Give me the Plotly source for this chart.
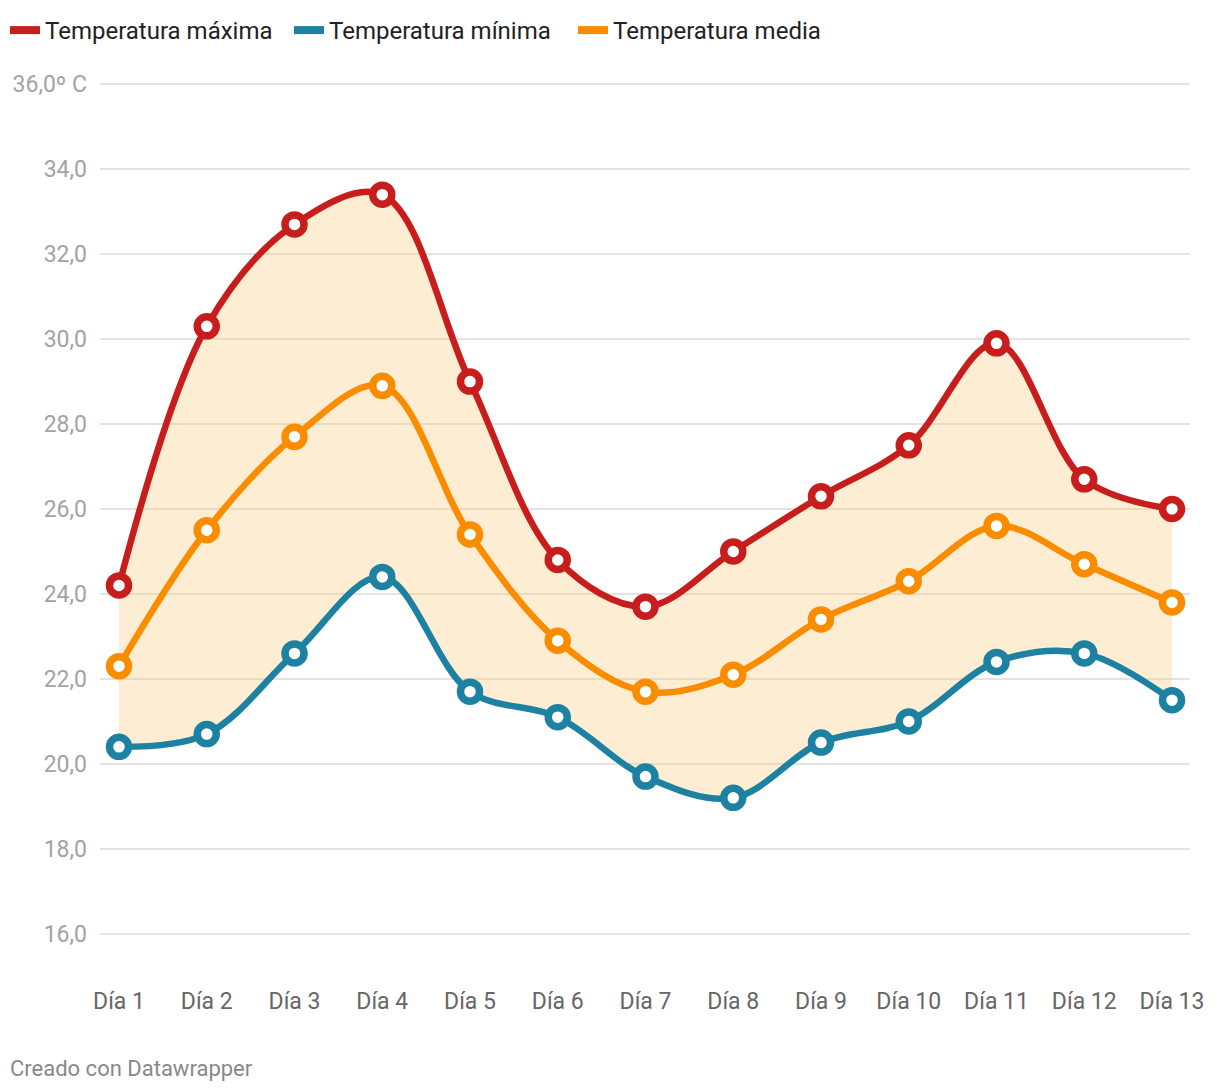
import plotly.graph_objects as go

days = ["Día 1", "Día 2", "Día 3", "Día 4", "Día 5", "Día 6", "Día 7",
        "Día 8", "Día 9", "Día 10", "Día 11", "Día 12", "Día 13"]
t_max = [24.2, 30.3, 32.7, 33.4, 29.0, 24.8, 23.7, 25.0, 26.3, 27.5, 29.9, 26.7, 26.0]
t_min = [20.4, 20.7, 22.6, 24.4, 21.7, 21.1, 19.7, 19.2, 20.5, 21.0, 22.4, 22.6, 21.5]
t_mean = [22.3, 25.5, 27.7, 28.9, 25.4, 22.9, 21.7, 22.1, 23.4, 24.3, 25.6, 24.7, 23.8]
y_ticks = [16, 18, 20, 22, 24, 26, 28, 30, 32, 34, 36]
y_ticktext = ["16,0", "18,0", "20,0", "22,0", "24,0", "26,0", "28,0", "30,0", "32,0", "34,0", "36,0º C"]

RED = "#c71e1d"
BLUE = "#1d81a2"
ORANGE = "#fa8c00"

x = list(range(len(days)))

fig = go.Figure()

# range fill between max and min
fig.add_trace(go.Scatter(x=x, y=t_min, mode="lines", line=dict(width=0, shape="spline", smoothing=1),
                         showlegend=False, hoverinfo="skip"))
fig.add_trace(go.Scatter(x=x, y=t_max, mode="lines", line=dict(width=0, shape="spline", smoothing=1),
                         fill="tonexty", fillcolor="rgba(250,200,120,0.33)",
                         showlegend=False, hoverinfo="skip"))

series = [("Temperatura máxima", t_max, RED),
          ("Temperatura mínima", t_min, BLUE),
          ("Temperatura media", t_mean, ORANGE)]

for name, vals, col in series:
    fig.add_trace(go.Scatter(
        x=x, y=vals, mode="lines+markers", name=name, showlegend=False,
        line=dict(color=col, width=6.5, shape="spline", smoothing=1),
        marker=dict(size=19, color="white", line=dict(color=col, width=7.5)),
        cliponaxis=False,
    ))

# legend-only traces
for name, vals, col in series:
    fig.add_trace(go.Scatter(
        x=[None], y=[None], mode="lines", name=name,
        line=dict(color=col, width=8),
    ))

L, R, T, B = 100, 30, 80, 154
W, H = 1220, 1092
PW, PH = W - L - R, H - T - B

fig.update_layout(
    width=W, height=H,
    paper_bgcolor="white", plot_bgcolor="white",
    font=dict(family="Roboto, sans-serif"),
    margin=dict(l=L, r=R, t=T, b=B),
    showlegend=True,
    legend=dict(orientation="h", x=5/W, xanchor="left", y=1 - 8/H, yanchor="top",
                xref="container", yref="container",
                font=dict(size=24, color="#222222"), itemwidth=30,
                entrywidth=239, entrywidthmode="pixels",
                traceorder="normal", bgcolor="rgba(0,0,0,0)"),
    xaxis=dict(
        range=[-0.2165, 12.205], tickvals=x, ticktext=days,
        showgrid=False, zeroline=False, showline=False,
        tickfont=dict(size=23, color="#666666"), ticks="", ticklabelstandoff=47,
    ),
    yaxis=dict(
        range=[15.9, 36.1], tickvals=y_ticks, ticktext=y_ticktext,
        showgrid=True, gridcolor="#e3e3e3", gridwidth=1.5, zeroline=False, showline=False,
        tickfont=dict(size=23, color="#a3a3a3"), ticks="", ticklabelstandoff=12,
    ),
    annotations=[dict(text="Creado con Datawrapper", xref="paper", yref="paper",
                      x=(8 - L)/PW, y=((H - B) - 1068)/PH, xanchor="left", yanchor="middle",
                      showarrow=False, font=dict(size=22, color="#888888"))],
)

fig.write_html("out.html", post_script="document.body.style.margin='0';",
               config={"displayModeBar": False})
